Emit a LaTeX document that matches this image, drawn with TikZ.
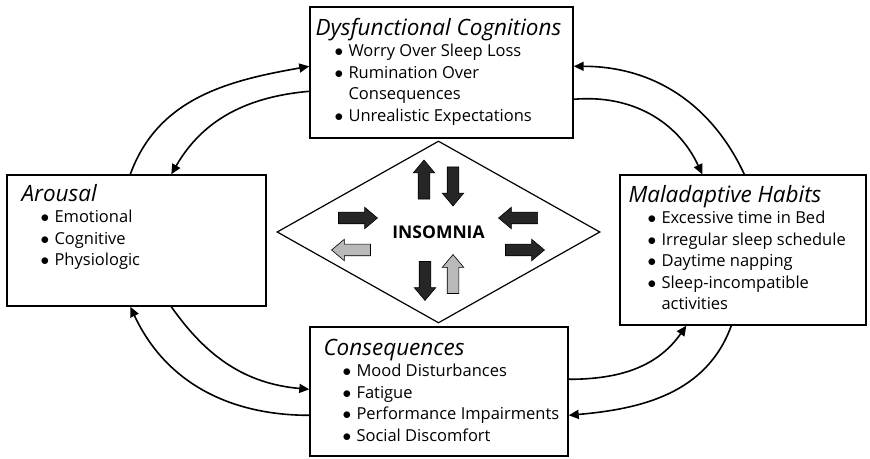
\documentclass[tikz,border=0pt]{standalone}
\usepackage{fontspec}
\setmainfont{Open Sans}
\usetikzlibrary{positioning,shapes.geometric,shapes.arrows,arrows.meta}
\newcommand{\bul}{\hspace*{19pt}\makebox[14pt][l]{$\bullet$}}
\newcommand{\cont}{\hspace*{33pt}}
\newcommand{\ttl}[1]{{\itshape\fontsize{22.5}{22}\selectfont #1}}
\tikzset{
    plain-box/.style = {draw, line width=1.4pt, rectangle, inner sep=0pt},
    box-text/.style = {align=left, inner sep=0pt, font=\fontsize{16.5}{21.5}\selectfont},
    cycle-arrow/.style = {line width=1.6pt, -{Triangle[length=10pt,width=9pt]}},
    block-arrow/.style = {single arrow, draw, line width=0.6pt, inner sep=5.5pt, minimum height=39pt, single arrow head extend=5pt, single arrow tip angle=80},
}

\begin{document}
\begin{tikzpicture}[x=1pt,y=1pt]
\useasboundingbox (0,0) rectangle (870,458);
\node [plain-box, minimum width=263pt, minimum height=131pt] (cog) at (441.5,385.5) {};
\node [plain-box, minimum width=259pt, minimum height=131pt] (aro) at (136.5,217.5) {};
\node [plain-box, minimum width=246pt, minimum height=150pt] (hab) at (743,208) {};
\node [plain-box, minimum width=258pt, minimum height=129pt] (con) at (439,66.5) {};
\node [diamond, draw, line width=1.2pt, minimum width=323pt, minimum height=182pt, inner sep=0pt, font=\bfseries\fontsize{17.5}{18}\selectfont] (ins) at (438.5,226) {INSOMNIA};

\node [box-text, below right=11.5pt and 6pt of cog.north west] (cog-text) {\ttl{Dysfunctional Cognitions}\\
    \bul Worry Over Sleep Loss\\
    \bul Rumination Over\\
    \cont Consequences\\
    \bul Unrealistic Expectations};
\node [box-text, below right=9.5pt and 15pt of aro.north west] (aro-text) {\ttl{Arousal}\\
    \bul Emotional\\
    \bul Cognitive\\
    \bul Physiologic};
\node [box-text, below right=10.5pt and 9pt of hab.north west] (hab-text) {\ttl{Maladaptive Habits}\\
    \bul Excessive time in Bed\\
    \bul Irregular sleep schedule\\
    \bul Daytime napping\\
    \bul Sleep-incompatible\\
    \cont activities};
\node [box-text, below right=12.3pt and 14pt of con.north west] (con-text) {\ttl{Consequences}\\
    \bul Mood Disturbances\\
    \bul Fatigue\\
    \bul Performance Impairments\\
    \bul Social Discomfort};

% arrows in the diamond
\foreach \x/\y/\a/\c [count=\i] in {424/275/90/black!85, 453/275/-90/black!85, 354.5/240/0/black!85, 354.5/208/180/gray!55,
    521.5/240/180/black!85, 521.5/208/0/black!85, 425/180.5/-90/black!85, 453/180.5/90/gray!55}
    \node [block-arrow, fill=\c, rotate=\a] (arrow-\i) at (\x,\y) {};

% cycle between the boxes
\draw [cycle-arrow] ([xshift=124pt]aro.north west) to[out=70, in=190] ([yshift=-60pt]cog.north west);
\draw [cycle-arrow] ([yshift=-85pt]cog.north west) to[out=185, in=60] ([xshift=165pt]aro.north west);
\draw [cycle-arrow] ([yshift=-93pt]cog.north east) to[out=5, in=115] ([xshift=83pt]hab.north west);
\draw [cycle-arrow] ([xshift=125pt]hab.north west) to[out=115, in=0] ([yshift=-60pt]cog.north east);
\draw [cycle-arrow] ([xshift=165pt]aro.south west) to[out=-55, in=175] ([yshift=-63pt]con.north west);
\draw [cycle-arrow] ([yshift=-89pt]con.north west) to[out=180, in=-65] ([xshift=124pt]aro.south west);
\draw [cycle-arrow] ([yshift=-53pt]con.north east) to[out=0, in=-125] ([xshift=67pt]hab.south west);
\draw [cycle-arrow] ([xshift=112pt]hab.south west) to[out=-110, in=5] ([yshift=-89pt]con.north east);
\end{tikzpicture}
\end{document}
